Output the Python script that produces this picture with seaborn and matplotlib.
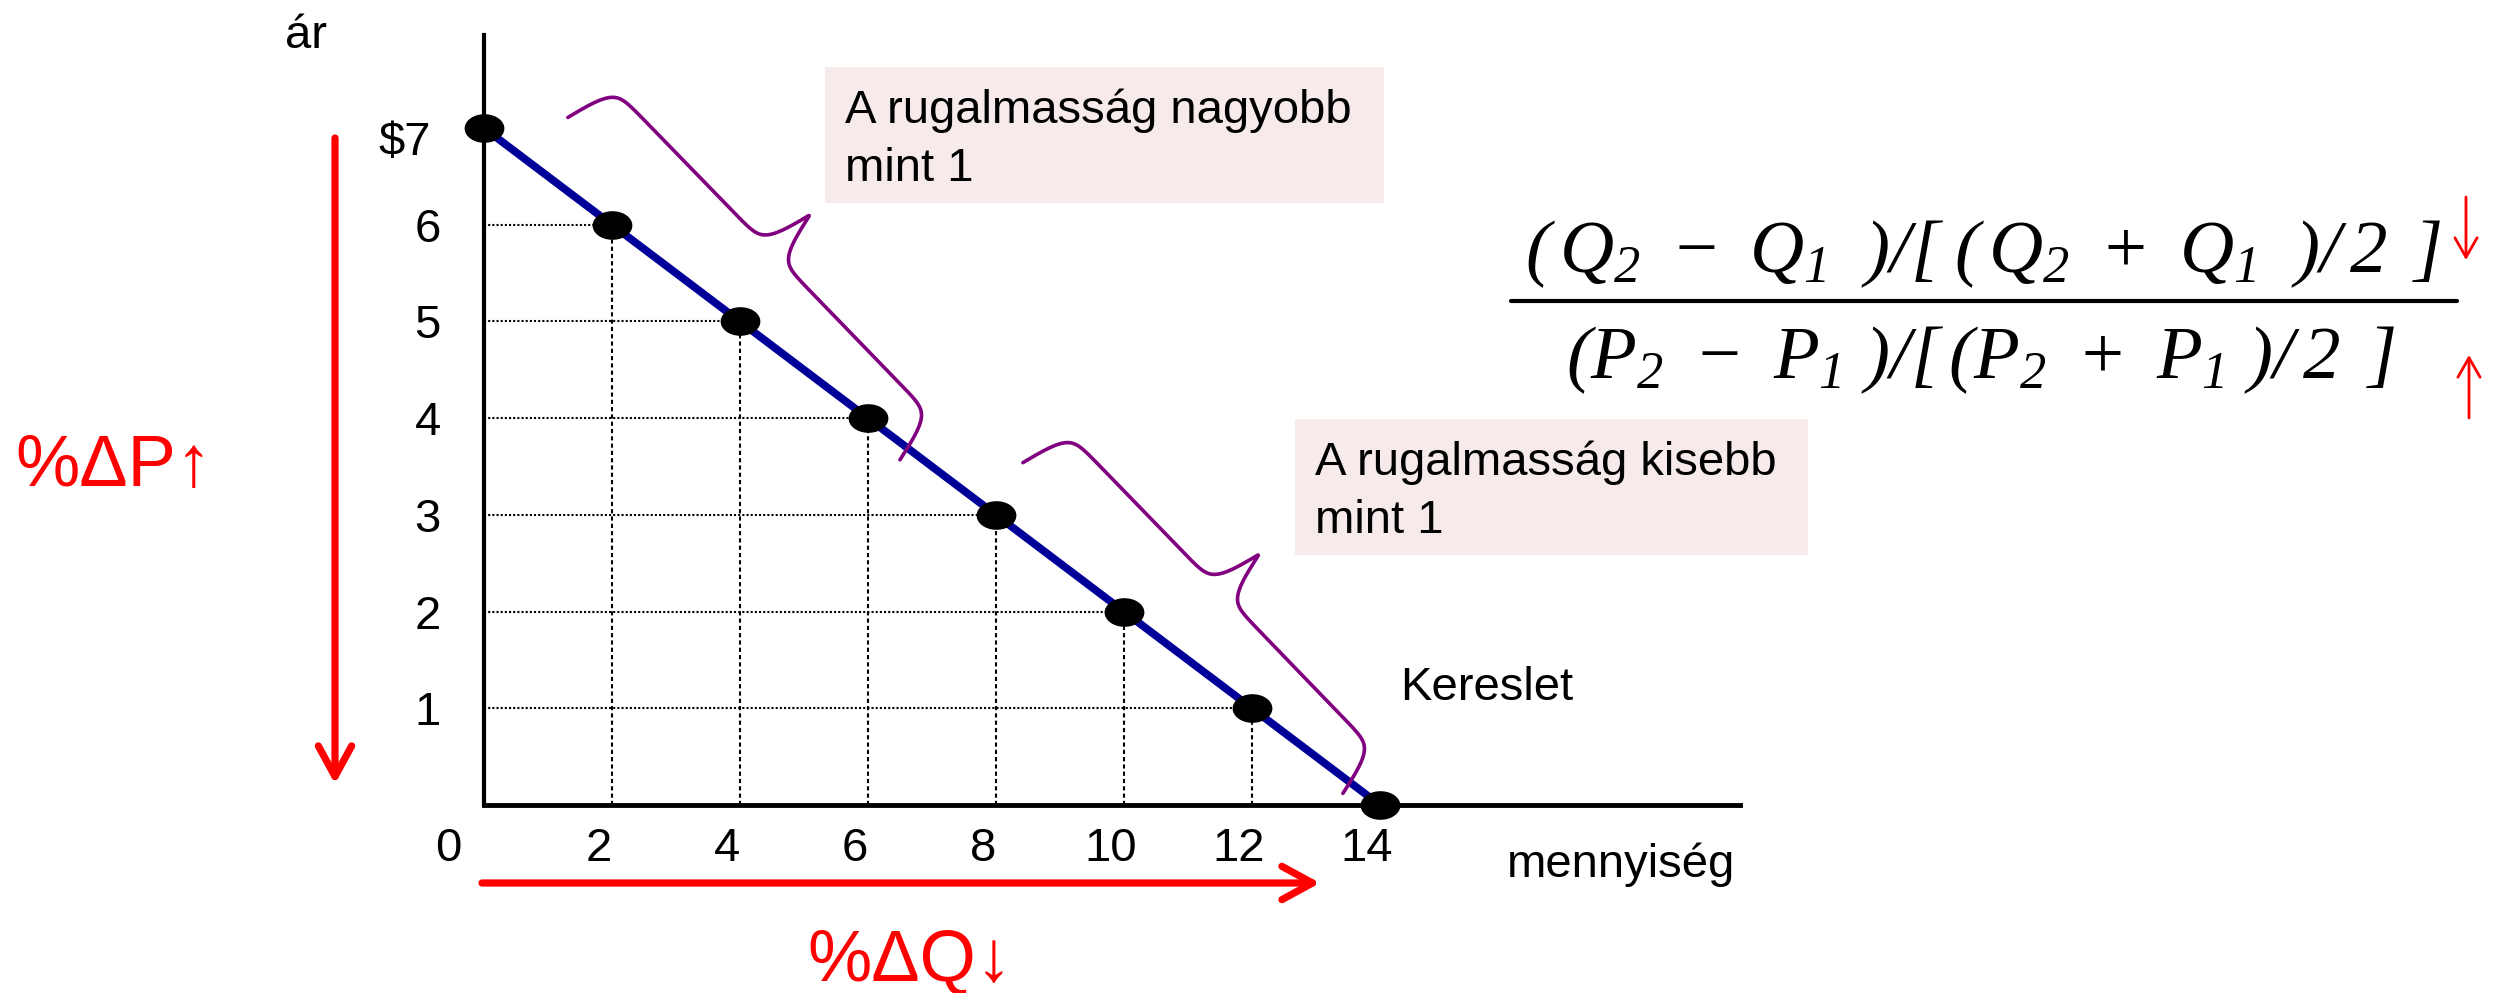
import matplotlib
matplotlib.use("Agg")
import matplotlib.pyplot as plt
import numpy as np
import seaborn as sns
from matplotlib.patches import FancyArrowPatch, Rectangle
from matplotlib.path import Path
from matplotlib.transforms import ScaledTranslation

# Demand schedule
quantity = [0, 2, 4, 6, 8, 10, 12, 14]
price = [7, 6, 5, 4, 3, 2, 1, 0]

x_ticks = [0, 2, 4, 6, 8, 10, 12, 14]
x_tick_labels = ["0", "2", "4", "6", "8", "10", "12", "14"]
y_ticks = [1, 2, 3, 4, 5, 6, 7]
y_tick_labels = ["1", "2", "3", "4", "5", "6", "$7"]

# stretches of the curve marked with a brace: (start, end) in data units
elastic_span = [(1.31, 7.11), (6.50, 3.57)]
inelastic_span = [(8.42, 3.54), (13.42, 0.12)]

box_texts = [["A rugalmasság nagyobb", "mint 1"], ["A rugalmasság kisebb", "mint 1"]]
numerator = r"$(\,Q_2\ -\ Q_1\ \;)/[\;(\,Q_2\ +\ Q_1\ \;)/\,2\ \,]$"
denominator = r"$(P_2\ -\ P_1\ )/[\,(P_2\ +\ P_1\ )/\,2\ \,]$"

W, H, DPI = 2498, 993, 100
X0, UX = 484, 64.0   # pixel of q=0 and pixels per unit of quantity
Y0, UY = 805, 96.7   # pixel of p=0 and pixels per unit of price

RED = "#FF0000"
NAVY = "#000099"
PURPLE = "#800080"
PINK = "#F6EAEA"

sns.set_style("white")
plt.rcParams["font.family"] = ["Liberation Sans", "DejaVu Sans"]
plt.rcParams["text.color"] = "black"
plt.rcParams["axes.labelcolor"] = "black"
plt.rcParams["mathtext.fontset"] = "custom"
plt.rcParams["mathtext.it"] = "Liberation Serif:italic"
plt.rcParams["mathtext.rm"] = "Liberation Serif:italic"


def px(x, y):
    """Pixel from the top-left corner -> axes fraction (axes fill the figure)."""
    return x / W, 1 - y / H


def draw_brace(ax, start, end, depth=106, k=0.16, **kw):
    # build the brace in display pixels so it is not distorted by the aspect
    p0 = ax.transData.transform(start)
    p1 = ax.transData.transform(end)
    vec = p1 - p0
    length = np.hypot(*vec)
    along = vec / length
    normal = np.array([-along[1], along[0]])
    u = np.linspace(0, length, 800)
    uu = np.minimum(u, length - u)
    sig = lambda t: 1 / (1 + np.exp(-t))
    v = depth / 2 * (2 * sig(k * uu) - 1) + depth * sig(k * (uu - length / 2))
    pts = p0 + np.outer(u, along) + np.outer(v, normal)
    pts = ax.transData.inverted().transform(pts)
    ax.plot(pts[:, 0], pts[:, 1], **kw)


def arrow(ax, a, b, lw, hl, hw):
    ax.add_patch(FancyArrowPatch(px(*a), px(*b), transform=ax.transAxes,
                                 arrowstyle=f"->,head_length={hl},head_width={hw}",
                                 mutation_scale=1, lw=lw, color=RED,
                                 shrinkA=0, shrinkB=0, zorder=6))


def main():
    fig = plt.figure(figsize=(W / DPI, H / DPI), dpi=DPI)
    ax = fig.add_axes([0, 0, 1, 1])
    ax.set_xlim(-X0 / UX, (W - X0) / UX)
    ax.set_ylim(-(H - Y0) / UY, Y0 / UY)

    # dotted guides from both axes to every interior point
    inner = [(q, p) for q, p in zip(quantity, price) if q > 0 and p > 0]
    gq = [q for q, _ in inner]
    gp = [p for _, p in inner]
    ax.hlines(gp, 0, gq, colors="black", linestyles=[(0, (1, 1))], lw=1.5, zorder=1)
    ax.vlines(gq, 0, gp, colors="black", linestyles=[(0, (2, 1.5))], lw=1.5, zorder=1)

    sns.lineplot(x=quantity, y=price, ax=ax, color=NAVY, lw=5.6, zorder=3)
    theta = np.linspace(0, 2 * np.pi, 61)
    ellipse = Path(np.column_stack([np.cos(theta), 0.72 * np.sin(theta)]), closed=True)
    sns.scatterplot(x=quantity, y=price, ax=ax, marker=ellipse, s=820, color="black",
                    edgecolor="black", linewidth=0, zorder=5, legend=False)

    for side in ("top", "right"):
        ax.spines[side].set_visible(False)
    ax.spines["left"].set_position(("data", 0))
    ax.spines["left"].set_bounds(0, (Y0 - 35) / UY)
    ax.spines["left"].set_linewidth(3)
    ax.spines["bottom"].set_position(("data", 0))
    ax.spines["bottom"].set_bounds(0, (1740 - X0) / UX)
    ax.spines["bottom"].set_linewidth(3.5)
    for sp in ax.spines.values():
        sp.set_color("black")

    ax.set_xticks(x_ticks, x_tick_labels)
    ax.set_yticks(y_ticks, y_tick_labels)
    ax.tick_params(axis="both", length=0, labelsize=34, colors="black")
    ax.tick_params(axis="x", pad=16)
    ax.tick_params(axis="y", pad=31)
    for lbl in ax.get_xticklabels():
        dx = -36 if lbl.get_text() == "0" else -13
        lbl.set_transform(lbl.get_transform() + ScaledTranslation(dx / DPI, 0, fig.dpi_scale_trans))
    for lbl in ax.get_yticklabels():
        if lbl.get_text() == "$7":
            lbl.set_transform(lbl.get_transform()
                              + ScaledTranslation(-10 / DPI, -10 / DPI, fig.dpi_scale_trans))

    ax.set_xlabel("mennyiség", fontsize=34)
    ax.xaxis.set_label_coords(*px(1621, 877))
    ax.xaxis.label.set(va="baseline", ha="center")
    ax.set_ylabel("ár", fontsize=34, rotation=0)
    ax.yaxis.set_label_coords(*px(306, 48))
    ax.yaxis.label.set(va="baseline", ha="center")

    # pink call-out boxes
    for (x1, y1, x2, y2), (tx, b1, b2), lines in zip(
            [(825, 67, 1384, 203), (1295, 419, 1808, 555)],
            [(845, 123, 181), (1315, 475, 533)], box_texts):
        ax.add_patch(Rectangle(px(x1, y2), (x2 - x1) / W, (y2 - y1) / H,
                               transform=ax.transAxes, color=PINK, lw=0, zorder=0))
        ax.text(*px(tx, b1), lines[0], transform=ax.transAxes, fontsize=34, va="baseline")
        ax.text(*px(tx, b2), lines[1], transform=ax.transAxes, fontsize=34, va="baseline")

    ax.text(*px(1400, 700), "Kereslet", transform=ax.transAxes, fontsize=34, va="baseline")

    draw_brace(ax, *elastic_span, color=PURPLE, lw=2.6, zorder=4)
    draw_brace(ax, *inelastic_span, color=PURPLE, lw=2.6, zorder=4)

    # percentage-change arrows
    arrow(ax, (335, 138), (335, 784), lw=5.2, hl=22, hw=12)
    arrow(ax, (482, 883), (1320, 883), lw=5.2, hl=22, hw=12)
    ax.text(*px(15, 486), "%ΔP↑", transform=ax.transAxes, fontsize=52, color=RED, va="baseline")
    ax.text(*px(807, 980), "%ΔQ↓", transform=ax.transAxes, fontsize=52, color=RED, va="baseline")

    # midpoint elasticity formula
    ax.text(*px(1983, 272), numerator, transform=ax.transAxes, fontsize=54,
            ha="center", va="baseline")
    ax.text(*px(1981, 378), denominator, transform=ax.transAxes, fontsize=54,
            ha="center", va="baseline")
    ax.plot([1511 / W, 2457 / W], [1 - 301 / H] * 2, transform=ax.transAxes,
            color="black", lw=3)
    arrow(ax, (2466, 197), (2466, 260), lw=2, hl=14, hw=8)
    arrow(ax, (2469, 418), (2469, 355), lw=2, hl=14, hw=8)

    fig.savefig("out.png", dpi=DPI)
    plt.close(fig)


if __name__ == "__main__":
    main()
